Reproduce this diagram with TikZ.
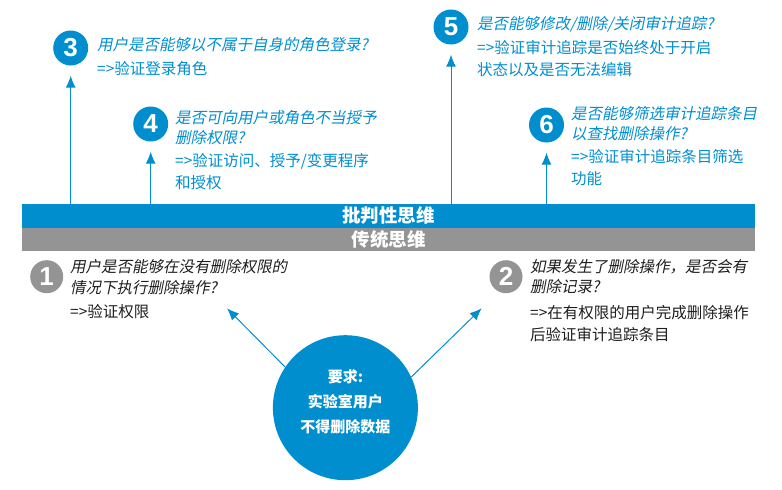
\documentclass[tikz,border=0pt]{standalone}
\usepackage{fontspec}
\setmainfont{Noto Sans CJK SC}
\newfontfamily\slantcjk[FakeSlant=0.2]{Noto Sans CJK SC}
\newfontfamily\digitfont{Liberation Sans}
\usetikzlibrary{arrows.meta, positioning}
\definecolor{critblue}{RGB}{0,142,207}
\definecolor{tradgray}{RGB}{148,148,148}
\definecolor{darktext}{RGB}{30,30,30}

\begin{document}
\begin{tikzpicture}[
    x=1pt, y=-1pt, >={Latex[length=12pt, width=10pt]},
    every node/.style={inner sep=0pt},
    num_blue/.style={circle, fill=critblue, minimum size=35pt, text=white, font=\digitfont\bfseries\fontsize{26}{26}\selectfont},
    num_gray/.style={num_blue, fill=tradgray, minimum size=33pt},
    question/.style={anchor=base west, text width=300pt, align=left, font=\slantcjk\fontsize{15.5}{20.5}\selectfont},
    answer/.style={anchor=base west, text width=300pt, align=left, font=\fontsize{15.5}{22}\selectfont},
    thinking_bar/.style={minimum width=733pt, minimum height=23.5pt, text=white, font=\bfseries\fontsize{18.5}{18.5}\selectfont},
    conn/.style={->, line width=1pt, critblue}
]
\useasboundingbox (0,0) rectangle (782,490);
\node (critical_bar) [thinking_bar, fill=critblue, anchor=north west] at (22,204) {批判性思维};
\node (traditional_bar) [thinking_bar, fill=tradgray, minimum height=23pt, below=0pt of critical_bar] {传统思维};
\node (num_login_role) [num_blue] at (70.7,48) {3};
\node (num_grant_delete) [num_blue] at (150.7,124) {4};
\node (num_audit_trail) [num_blue] at (451,27) {5};
\node (num_filter_trail) [num_blue] at (546.5,125) {6};
\node (num_no_permission) [num_gray] at (46.7,276.7) {1};
\node (num_delete_record) [num_gray] at (506,276.7) {2};
\node (question_login_role) [question, text=critblue] at (97,50) {用户是否能够以不属于自身的角色登录?};
\node (answer_login_role) [answer, text=critblue] at (97,74) {=>验证登录角色};
\node (question_grant_delete) [question, text=critblue] at (175,123) {是否可向用户或角色不当授予\\删除权限?};
\node (answer_grant_delete) [answer, text=critblue] at (175,166) {=>验证访问、授予/变更程序\\和授权};
\node (question_audit_trail) [question, text=critblue] at (477,29) {是否能够修改/删除/关闭审计追踪?};
\node (answer_audit_trail) [answer, text=critblue] at (477,53) {=>验证审计追踪是否始终处于开启\\状态以及是否无法编辑};
\node (question_filter_trail) [question, text=critblue] at (571,119) {是否能够筛选审计追踪条目\\以查找删除操作?};
\node (answer_filter_trail) [answer, text=critblue] at (571,162) {=>验证审计追踪条目筛选\\功能};
\node (question_no_permission) [question, text=darktext] at (70,272.7) {用户是否能够在没有删除权限的\\情况下执行删除操作?};
\node (answer_no_permission) [answer, text=darktext] at (70,317.7) {=>验证权限};
\node (question_delete_record) [question, text=darktext] at (530,272) {如果发生了删除操作，是否会有\\删除记录?};
\node (answer_delete_record) [answer, text=darktext] at (530,318.7) {=>在有权限的用户完成删除操作\\后验证审计追踪条目};
\node (requirement) [circle, fill=critblue, minimum size=145pt] at (345.4,407.7) {};
\node (requirement_text) [align=center, text=white, font=\bfseries\fontsize{15}{25}\selectfont] at ([yshift=6pt]requirement.center) {要求:\\实验室用户\\不得删除数据};
\coordinate (tip_no_permission) at (227,308.3);
\coordinate (tip_delete_record) at (481.7,308.3);
\draw[conn, shorten >=10pt] (critical_bar.north -| num_login_role) -- (num_login_role.south);
\draw[conn, shorten >=10pt] (critical_bar.north -| num_grant_delete) -- (num_grant_delete.south);
\draw[conn, shorten >=10pt] (critical_bar.north -| num_audit_trail) -- (num_audit_trail.south);
\draw[conn, shorten >=10pt] (critical_bar.north -| num_filter_trail) -- (num_filter_trail.south);
\draw[conn] (requirement.146) -- (tip_no_permission);
\draw[conn] (requirement.25) -- (tip_delete_record);
\end{tikzpicture}
\end{document}
